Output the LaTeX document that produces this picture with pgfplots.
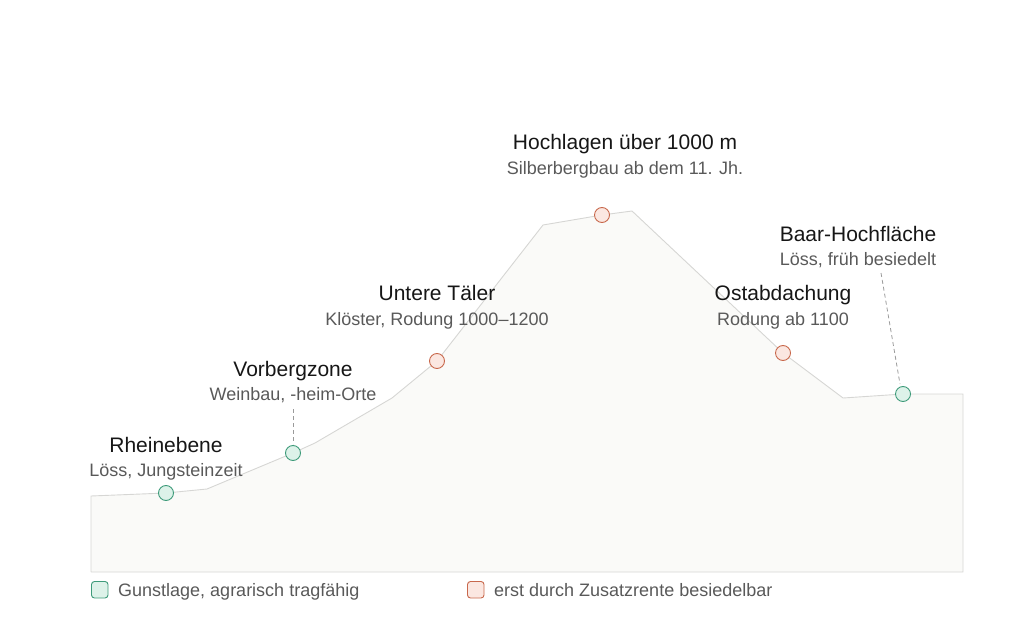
\documentclass[border=0pt]{standalone}
\usepackage{fontspec}
\setmainfont{Liberation Sans}
\usepackage{pgfplots}
\pgfplotsset{compat=1.18}
\definecolor{gstroke}{HTML}{3E9B7A}
\definecolor{gfill}{HTML}{DDF2E9}
\definecolor{ostroke}{HTML}{C8684C}
\definecolor{ofill}{HTML}{FBE7E1}
\definecolor{terrain}{HTML}{FAFAF8}
\definecolor{edge}{HTML}{D6D6D4}
\definecolor{subgray}{HTML}{595959}
\definecolor{titleblack}{HTML}{161616}
\definecolor{leader}{HTML}{9A9A9A}
\newcommand\ttl[1]{{\fontsize{21}{25}\selectfont #1}}
\newcommand\sub[1]{{\fontsize{18}{22}\selectfont #1}}
\begin{document}
\begin{tikzpicture}
\useasboundingbox (-91pt,-60pt) rectangle (933pt,572pt);
\begin{axis}[at={(0pt,0pt)}, anchor=south west, scale only axis,
  width=872pt, height=361pt, xmin=0, xmax=872, ymin=0, ymax=361,
  axis lines=none, clip=false]
% terrain profile
\addplot[draw=edge, fill=terrain, line width=0.9pt] coordinates {
  (0,0) (0,76) (75,79) (116,83) (202,119) (224,129) (301,174) (346,211)
  (452,347) (511,357) (541,361) (692,219) (752,174) (812,178) (872,178) (872,0) (0,0)};
% leader lines
\draw[leader, line width=0.8pt, dash pattern=on 4pt off 3pt] (axis cs:202,163) -- (axis cs:202,128);
\draw[leader, line width=0.8pt, dash pattern=on 4pt off 3pt] (axis cs:790,299) -- (axis cs:809,188);
% points
\addplot[only marks, mark=*, mark size=7.5pt,
  mark options={draw=gstroke, fill=gfill, line width=0.9pt}]
  coordinates {(75,79) (202,119) (812,178)};
\addplot[only marks, mark=*, mark size=7.5pt,
  mark options={draw=ostroke, fill=ofill, line width=0.9pt}]
  coordinates {(346,211) (511,357) (692,219)};
% labels
\node[anchor=base, text=titleblack] at (axis cs:75,120) {\ttl{Rheinebene}};
\node[anchor=base, text=subgray] at (axis cs:75,96) {\sub{Löss, Jungsteinzeit}};
\node[anchor=base, text=titleblack] at (axis cs:202,196) {\ttl{Vorbergzone}};
\node[anchor=base, text=subgray] at (axis cs:202,172) {\sub{Weinbau, -heim-Orte}};
\node[anchor=base, text=titleblack] at (axis cs:346,271) {\ttl{Untere Täler}};
\node[anchor=base, text=subgray] at (axis cs:346,246) {\sub{Klöster, Rodung 1000–1200}};
\node[anchor=base, text=titleblack] at (axis cs:534,422) {\ttl{Hochlagen über 1000 m}};
\node[anchor=base, text=subgray] at (axis cs:534,397) {\sub{Silberbergbau ab dem 11. Jh.}};
\node[anchor=base, text=titleblack] at (axis cs:692,271) {\ttl{Ostabdachung}};
\node[anchor=base, text=subgray] at (axis cs:692,246) {\sub{Rodung ab 1100}};
\node[anchor=base, text=titleblack] at (axis cs:767,330) {\ttl{Baar-Hochfläche}};
\node[anchor=base, text=subgray] at (axis cs:767,306) {\sub{Löss, früh besiedelt}};
\end{axis}
% legend
\draw[gstroke, fill=gfill, line width=0.9pt, rounded corners=3pt] (0.5pt,-26pt) rectangle (17pt,-9.5pt);
\node[anchor=base west, inner sep=0pt, text=subgray] at (27pt,-24pt) {\sub{Gunstlage, agrarisch tragfähig}};
\draw[ostroke, fill=ofill, line width=0.9pt, rounded corners=3pt] (376.5pt,-26pt) rectangle (393pt,-9.5pt);
\node[anchor=base west, inner sep=0pt, text=subgray] at (403pt,-24pt) {\sub{erst durch Zusatzrente besiedelbar}};
\end{tikzpicture}
\end{document}
